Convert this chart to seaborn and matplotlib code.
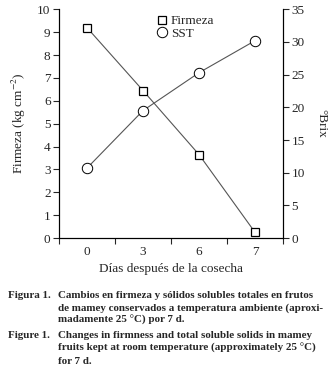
import numpy as np
import pandas as pd
import matplotlib.pyplot as plt
import seaborn as sns

# datos
dias = ["0", "3", "6", "7"]
firmeza = [9.2, 6.45, 3.65, 0.25]   # kg cm^-2
sst = [10.7, 19.5, 25.3, 30.2]      # °Brix

sns.set_style("ticks")
plt.rcParams['font.family'] = ['Liberation Serif', 'DejaVu Serif']
plt.rcParams['mathtext.fontset'] = 'stix'

pos = np.arange(len(dias))
df = pd.DataFrame({'pos': pos, 'Firmeza': firmeza, 'SST': sst})

fig = plt.figure(figsize=(3.33, 3.72), dpi=100)
ax = fig.add_axes([0.177, 0.36, 0.673, 0.615])
ax2 = ax.twinx()

sns.lineplot(data=df, x='pos', y='Firmeza', ax=ax, color='#555555', lw=0.8,
             marker='s', markersize=6, markerfacecolor='white',
             markeredgecolor='black', markeredgewidth=0.9, label='Firmeza', legend=False)
sns.lineplot(data=df, x='pos', y='SST', ax=ax2, color='#555555', lw=0.8,
             marker='o', markersize=7.5, markerfacecolor='white',
             markeredgecolor='black', markeredgewidth=0.7, label='SST', legend=False)

fs = 9.5
ax.set_xlim(-0.5, 3.5)
ax.set_ylim(0, 10)
ax2.set_ylim(0, 35)
ax.set_yticks(range(0, 11))
ax2.set_yticks(range(0, 36, 5))
ax.set_xticks(pos)
ax.set_xticklabels(dias)
ax.set_xticks(np.arange(-0.5, 3.6, 1), minor=True)
ax.tick_params(axis='x', which='major', length=0, labelsize=fs, pad=6)
ax.tick_params(axis='x', which='minor', length=4, width=0.8, direction='out')
ax.tick_params(axis='y', length=4, width=0.8, labelsize=fs, pad=2)
ax2.tick_params(axis='y', length=4, width=0.8, labelsize=fs, pad=2)

for a in (ax, ax2):
    a.spines['top'].set_visible(False)
    for s in ('left', 'right', 'bottom'):
        a.spines[s].set_linewidth(0.8)
        a.spines[s].set_color('black')

ax.set_xlabel('Días después de la cosecha', fontsize=fs, labelpad=3)
ax.set_ylabel('Firmeza (kg cm$^{-2}$)', fontsize=fs, labelpad=7)
ax2.set_ylabel('°Brix', fontsize=fs, rotation=270, labelpad=16)

h1, l1 = ax.get_legend_handles_labels()
h2, l2 = ax2.get_legend_handles_labels()
leg = ax.legend(h1 + h2, l1 + l2, loc='upper left', bbox_to_anchor=(0.4, 1.01),
                frameon=False, fontsize=fs, handlelength=0.8, handletextpad=0.3,
                labelspacing=0.05, borderaxespad=0.2)
for h in leg.legend_handles:
    h.set_linestyle('none')

cap = dict(fontsize=7.9, fontweight='bold', va='center', ha='left')
fig.text(8 / 333, 1 - 295 / 372, 'Figura 1.', **cap)
fig.text(58 / 333, 1 - 295 / 372, 'Cambios en firmeza y sólidos solubles totales en frutos', **cap)
fig.text(58 / 333, 1 - 308 / 372, 'de mamey conservados a temperatura ambiente (aproxi-', **cap)
fig.text(58 / 333, 1 - 320 / 372, 'madamente 25 °C) por 7 d.', **cap)
fig.text(8 / 333, 1 - 335 / 372, 'Figure 1.', **cap)
fig.text(58 / 333, 1 - 335 / 372, 'Changes in firmness and total soluble solids in mamey', **cap)
fig.text(58 / 333, 1 - 348 / 372, 'fruits kept at room temperature (approximately 25 °C)', **cap)
fig.text(58 / 333, 1 - 361 / 372, 'for 7 d.', **cap)

fig.savefig('out.png', dpi=100)
